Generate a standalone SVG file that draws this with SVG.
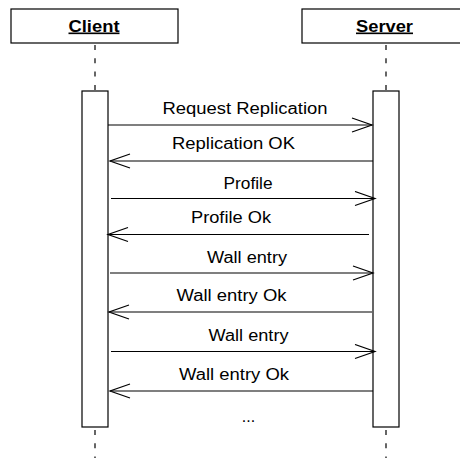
<svg xmlns="http://www.w3.org/2000/svg" width="460" height="458" viewBox="0 0 460 458">
<style>
.box{fill:#fff;stroke:#000;stroke-width:1.2}
.life{stroke:#000;stroke-width:1.2;stroke-dasharray:5 8.3;fill:none}
.msg{stroke:#000;stroke-width:1.2;fill:none;marker-end:url(#open)}
.lbl{font-family:"Liberation Sans",Arial,sans-serif;font-size:16px;fill:#000;text-anchor:middle}
.hdr{font-family:"Liberation Sans",Arial,sans-serif;font-size:16.5px;font-weight:bold;fill:#000;text-anchor:middle;text-decoration:underline}
</style>
<defs>
<marker id="open" markerUnits="userSpaceOnUse" markerWidth="24" markerHeight="18" viewBox="0 0 24 18" refX="21" refY="8" orient="auto">
<path d="M1,1 L21,8 L1,15" fill="none" stroke="#000" stroke-width="1.2"/>
</marker>
</defs>
<g id="client">
<rect class="box" x="11" y="9" width="167" height="34"/>
<text class="hdr" x="94" y="31.5" textLength="51" lengthAdjust="spacingAndGlyphs">Client</text>
<line class="life" x1="95" y1="45" x2="95" y2="91"/>
<line class="life" x1="95" y1="430" x2="95" y2="458"/>
<rect class="box" x="82" y="91" width="26" height="336"/>
</g>
<g id="server">
<rect class="box" x="302" y="9" width="167" height="34"/>
<text class="hdr" x="384.5" y="31.5" textLength="57" lengthAdjust="spacingAndGlyphs">Server</text>
<line class="life" x1="386" y1="45" x2="386" y2="91"/>
<line class="life" x1="386" y1="430" x2="386" y2="458"/>
<rect class="box" x="373" y="91" width="26" height="336"/>
</g>
<g id="connectors">
<line class="msg" x1="108" y1="125" x2="372" y2="125"/>
<line class="msg" x1="373" y1="161" x2="110" y2="161"/>
<line class="msg" x1="111" y1="198.5" x2="375" y2="198.5"/>
<line class="msg" x1="369" y1="234.5" x2="108" y2="234.5"/>
<line class="msg" x1="110" y1="273" x2="373" y2="273"/>
<line class="msg" x1="372" y1="312" x2="109" y2="312"/>
<line class="msg" x1="111" y1="351.5" x2="375" y2="351.5"/>
<line class="msg" x1="373" y1="391" x2="110" y2="391"/>
</g>
<g id="labels">
<text class="lbl" x="245" y="113.5" textLength="165" lengthAdjust="spacingAndGlyphs">Request Replication</text>
<text class="lbl" x="233.5" y="148.5" textLength="123" lengthAdjust="spacingAndGlyphs">Replication OK</text>
<text class="lbl" x="248" y="188.5" textLength="49" lengthAdjust="spacingAndGlyphs">Profile</text>
<text class="lbl" x="231" y="222.5" textLength="80" lengthAdjust="spacingAndGlyphs">Profile Ok</text>
<text class="lbl" x="247" y="262.5" textLength="80" lengthAdjust="spacingAndGlyphs">Wall entry</text>
<text class="lbl" x="231.5" y="301" textLength="110" lengthAdjust="spacingAndGlyphs">Wall entry Ok</text>
<text class="lbl" x="248.5" y="340.5" textLength="80" lengthAdjust="spacingAndGlyphs">Wall entry</text>
<text class="lbl" x="234" y="379.5" textLength="110" lengthAdjust="spacingAndGlyphs">Wall entry Ok</text>
<text class="lbl" x="248.5" y="422">...</text>
</g>
</svg>
